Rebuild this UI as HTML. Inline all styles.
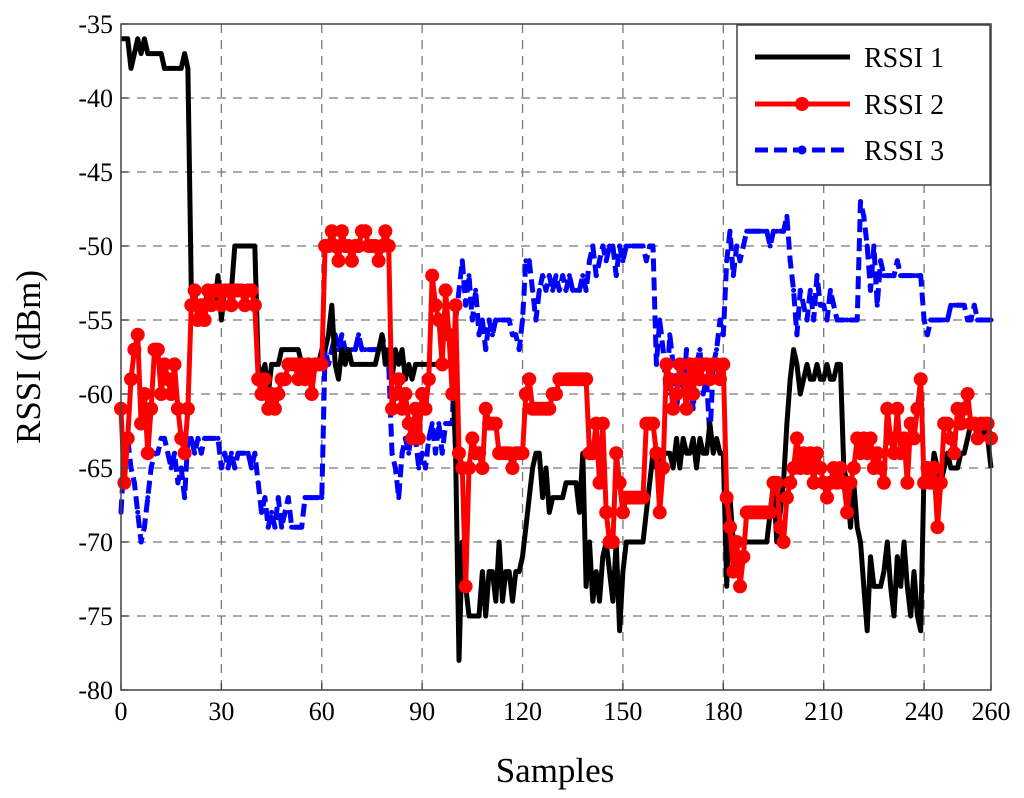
<!DOCTYPE html>
<html><head><meta charset="utf-8">
<style>
html,body{margin:0;padding:0;background:#fff;}
svg{display:block;font-family:"Liberation Serif",serif;}
</style></head>
<body>
<svg id="chart" width="1024" height="798" viewBox="0 0 1024 798" xmlns="http://www.w3.org/2000/svg">
<rect x="0" y="0" width="1024" height="798" fill="#fff"/>
<g id="grid"></g>
<g id="series"></g>
<rect x="121" y="24" width="870" height="666" fill="none" stroke="#444" stroke-width="1.5"/>
<g id="ticks"></g>
<text transform="translate(40,357) rotate(-90)" text-anchor="middle" font-size="35">RSSI (dBm)</text>
<text x="555" y="782" text-anchor="middle" font-size="35">Samples</text>
<g>
  <rect x="737" y="25" width="253" height="160" fill="#fff" stroke="#444" stroke-width="1.5"/>
  <g>
    <line x1="755" y1="57" x2="850" y2="57" stroke="#000" stroke-width="5"/>
    <text x="864" y="67" font-size="28">RSSI 1</text>
  </g>
  <g>
    <line x1="755" y1="104" x2="850" y2="104" stroke="#f00" stroke-width="5"/>
    <circle cx="802" cy="104" r="7" fill="#f00"/>
    <text x="864" y="114" font-size="28">RSSI 2</text>
  </g>
  <g>
    <line x1="755" y1="150" x2="850" y2="150" stroke="#00f" stroke-width="5" stroke-dasharray="13,6"/>
    <circle cx="802" cy="150" r="4.5" fill="#00f"/>
    <text x="864" y="160" font-size="28">RSSI 3</text>
  </g>
</g>
</svg>
<script>
const xTicks = [0,30,60,90,120,150,180,210,240,260];
const yTicks = [-35,-40,-45,-50,-55,-60,-65,-70,-75,-80];
const rssi1 = [
-36,-36,-36,-38,-37,-36,-37,-36,-37,-37,
-37,-37,-37,-38,-38,-38,-38,-38,-38,-37,
-38,-53,-54,-54,-54,-54,-53,-54,-54,-52,
-55,-53,-53,-53,-50,-50,-50,-50,-50,-50,
-50,-58,-59,-58,-60,-58,-58,-58,-57,-57,
-57,-57,-57,-57,-58,-58,-58,-59,-58,-58,
-57,-57,-56,-54,-58,-59,-57,-58,-57,-58,
-58,-58,-58,-58,-58,-58,-58,-57,-56,-58,
-57,-59,-57,-58,-57,-59,-58,-59,-58,-58,
-58,-58,-58,-58,-58,-58,-58,-58,-58,-58,
-64,-78,-70,-73,-75,-75,-75,-75,-72,-75,
-72,-72,-74,-70,-74,-72,-72,-74,-72,-72,
-71,-69,-67,-65,-64,-64,-67,-65,-68,-67,
-67,-67,-67,-66,-66,-66,-66,-68,-64,-73,
-70,-74,-72,-74,-71,-70,-72,-74,-70,-76,
-72,-70,-70,-70,-70,-70,-70,-68,-66,-64,
-65,-64,-64,-64,-64,-65,-63,-65,-63,-64,
-64,-63,-65,-63,-64,-64,-62,-64,-63,-64,
-64,-73,-67,-70,-70,-70,-70,-70,-70,-70,
-70,-70,-70,-70,-68,-66,-70,-68,-66,-62,
-59,-57,-58,-60,-59,-58,-59,-59,-58,-59,
-59,-58,-59,-59,-58,-58,-65,-66,-69,-66,
-69,-70,-73,-76,-71,-73,-73,-73,-72,-70,
-73,-75,-71,-73,-70,-73,-75,-72,-75,-76,
-65,-66,-66,-64,-65,-66,-65,-64,-65,-65,
-65,-64,-64,-63,-62,-62,-62,-63,-62,-63,
-65];
const rssi2 = [
-61,-66,-63,-59,-57,-56,-62,-60,-64,-61,
-57,-57,-60,-58,-59,-60,-58,-61,-63,-64,
-61,-54,-53,-55,-54,-55,-53,-54,-53,-53,
-54,-53,-53,-54,-53,-53,-53,-54,-53,-53,
-54,-59,-60,-59,-61,-60,-61,-60,-59,-59,
-58,-58,-58,-59,-58,-59,-58,-60,-58,-58,
-58,-50,-50,-49,-50,-51,-49,-50,-50,-51,
-50,-50,-49,-49,-50,-50,-50,-51,-50,-49,
-50,-61,-60,-59,-61,-60,-62,-63,-61,-63,
-60,-61,-59,-52,-54,-55,-58,-53,-56,-60,
-54,-64,-65,-73,-65,-63,-64,-64,-65,-61,
-62,-62,-62,-64,-64,-64,-64,-65,-64,-64,
-64,-60,-59,-61,-61,-61,-61,-61,-61,-60,
-60,-59,-59,-59,-59,-59,-59,-59,-59,-59,
-64,-64,-62,-66,-62,-68,-70,-70,-64,-66,
-68,-67,-67,-67,-67,-67,-67,-62,-62,-62,
-64,-68,-65,-58,-59,-61,-60,-58,-59,-61,
-58,-60,-58,-59,-58,-58,-59,-58,-58,-59,
-58,-67,-69,-72,-70,-73,-71,-68,-68,-68,
-68,-68,-68,-68,-68,-66,-66,-69,-70,-67,
-66,-65,-63,-65,-64,-65,-64,-66,-64,-65,
-66,-67,-66,-65,-66,-65,-66,-68,-66,-65,
-63,-64,-63,-64,-63,-65,-64,-65,-66,-61,
-63,-64,-61,-64,-63,-66,-62,-63,-61,-59,
-66,-65,-66,-65,-69,-66,-62,-62,-63,-64,
-61,-62,-61,-60,-62,-62,-63,-62,-62,-62,
-63];
const rssi3 = [
-68,-64,-63,-65,-66,-68,-70,-69,-67,-65,
-64,-64,-63,-63,-64,-65,-64,-66,-65,-67,
-63,-63,-64,-63,-64,-63,-63,-63,-63,-63,
-65,-64,-65,-64,-65,-64,-64,-64,-64,-65,
-64,-66,-68,-67,-69,-68,-69,-67,-69,-68,
-67,-69,-69,-69,-69,-67,-67,-67,-67,-67,
-67,-57,-58,-57,-56,-57,-56,-57,-57,-57,
-57,-56,-57,-57,-57,-57,-57,-57,-56,-57,
-58,-64,-65,-67,-64,-63,-64,-62,-63,-65,
-64,-65,-63,-62,-64,-62,-64,-62,-62,-62,
-55,-53,-51,-54,-52,-55,-53,-56,-55,-57,
-55,-56,-55,-55,-55,-55,-55,-56,-56,-57,
-55,-51,-51,-53,-55,-53,-52,-53,-52,-53,
-52,-53,-52,-53,-52,-53,-53,-53,-52,-53,
-51,-50,-52,-51,-50,-51,-50,-50,-52,-50,
-51,-50,-50,-50,-50,-50,-50,-51,-50,-50,
-58,-55,-57,-60,-56,-58,-61,-59,-60,-57,
-59,-61,-58,-57,-60,-59,-63,-58,-57,-55,
-56,-51,-49,-52,-50,-51,-50,-49,-49,-49,
-49,-49,-49,-49,-50,-49,-49,-49,-49,-48,
-51,-53,-56,-53,-54,-55,-53,-55,-52,-54,
-54,-55,-53,-54,-55,-55,-55,-55,-55,-55,
-55,-47,-48,-50,-53,-50,-54,-51,-52,-52,
-52,-52,-51,-52,-52,-52,-52,-52,-52,-52,
-55,-56,-55,-55,-55,-55,-55,-55,-54,-54,
-54,-54,-54,-55,-55,-54,-55,-55,-55,-55,
-55];

const NS = 'http://www.w3.org/2000/svg';
const L = 121, R = 991, T = 24, B = 690;
const xMin = 0, xMax = 260, yMin = -80, yMax = -35;
function xs(v){ return L + (v - xMin) / (xMax - xMin) * (R - L); }
function ys(v){ return B - (v - yMin) / (yMax - yMin) * (B - T); }
function mk(tag, attrs, parent){
  const e = document.createElementNS(NS, tag);
  for (const k in attrs) e.setAttribute(k, attrs[k]);
  parent.appendChild(e);
  return e;
}
const grid = document.getElementById('grid');
const ticks = document.getElementById('ticks');
xTicks.forEach(function(t){
  const x = xs(t);
  if (t > xMin && t < xMax) {
    const g = mk('line', {x1:x, y1:T, x2:x, y2:B, stroke:'#777', 'stroke-width':1.3, 'stroke-dasharray':'9,7'}, grid);
    
    
  }
  mk('line', {x1:x, y1:B, x2:x, y2:B-7, stroke:'#444', 'stroke-width':1.3}, ticks);
  const lb = mk('text', {x:x, y:B+30, 'text-anchor':'middle', 'font-size':26}, ticks);
  lb.textContent = t;
  
  
});
yTicks.forEach(function(t){
  const y = ys(t);
  if (t > yMin && t < yMax) {
    const g = mk('line', {x1:L, y1:y, x2:R, y2:y, stroke:'#777', 'stroke-width':1.3, 'stroke-dasharray':'9,7'}, grid);
    
    
  }
  mk('line', {x1:L, y1:y, x2:L+7, y2:y, stroke:'#444', 'stroke-width':1.3}, ticks);
  const lb = mk('text', {x:L-8, y:y+9, 'text-anchor':'end', 'font-size':26}, ticks);
  lb.textContent = t;
  
  
});
const series = document.getElementById('series');
function pts(arr){ return arr.map(function(v,i){ return xs(i).toFixed(1)+','+ys(v).toFixed(1); }).join(' '); }

const l3 = mk('polyline', {points:pts(rssi3), fill:'none', stroke:'#00f', 'stroke-width':5, 'stroke-dasharray':'13,6', 'stroke-linejoin':'round'}, series);


rssi3.forEach(function(v,i){
  const c = mk('circle', {cx:xs(i), cy:ys(v), r:2.5, fill:'#00f'}, series);
  
  
});
const l1 = mk('polyline', {points:pts(rssi1), fill:'none', stroke:'#000', 'stroke-width':5, 'stroke-linejoin':'round'}, series);


const l2 = mk('polyline', {points:pts(rssi2), fill:'none', stroke:'#f00', 'stroke-width':5, 'stroke-linejoin':'round'}, series);


rssi2.forEach(function(v,i){
  const c = mk('circle', {cx:xs(i), cy:ys(v), r:7, fill:'#f00'}, series);
  
  
});
</script>
</body></html>
